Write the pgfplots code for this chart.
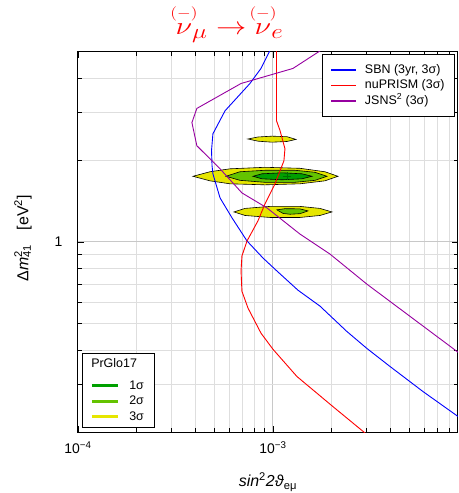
\documentclass[border=0pt]{standalone}
\usepackage{amsmath}
\usepackage{graphicx}
\usepackage{fontspec}
\setmainfont{Liberation Sans}
\usepackage{pgfplots}
\pgfplotsset{compat=1.18}
\definecolor{cyel}{RGB}{230,230,0}
\definecolor{cgr2}{RGB}{100,195,0}
\definecolor{cgr1}{RGB}{0,160,0}
\definecolor{cgrx}{RGB}{0,110,0}
\definecolor{cpur}{RGB}{150,0,160}
\definecolor{cred}{RGB}{255,0,0}
\definecolor{cblu}{RGB}{0,0,255}
\definecolor{gridmaj}{RGB}{200,200,200}
\definecolor{gridmin}{RGB}{222,222,222}
\begin{document}
\begin{tikzpicture}
\begin{axis}[name=ax, at={(0,0)}, anchor=south west,
  scale only axis, width=380bp, height=380bp,
  xmode=log, ymode=log,
  xmin=1e-4, xmax=8.89e-3, ymin=0.2, ymax=5,
  xtick={1e-4,1e-3}, xticklabels={10\textsuperscript{−4},10\textsuperscript{−3}},
  ytick={1}, yticklabels={1},
  minor xtick={2e-4,3e-4,4e-4,5e-4,6e-4,7e-4,8e-4,9e-4,2e-3,3e-3,4e-3,5e-3,6e-3,7e-3,8e-3},
  minor ytick={0.3,0.4,0.5,0.6,0.7,0.8,0.9,2,3,4},
  grid=both,
  major grid style={draw=gridmaj, line width=1bp},
  minor grid style={draw=gridmin, line width=0.8bp},
  tick align=inside,
  major tick length=6bp, minor tick length=4bp,
  every tick/.style={black, line width=0.8bp},
  axis line style={line width=1bp},
  ticklabel style={font=\fontsize{14}{16}\selectfont},
  yticklabel style={xshift=-12bp},
  xticklabel style={yshift=-6bp},
  xlabel={\textit{sin}\textsuperscript{2}\textit{2ϑ}\textsubscript{eμ}},
  ylabel={Δ\textit{m}\rlap{\textsuperscript{2}}\textsubscript{41}\hspace{0.9em}[eV\textsuperscript{2}]},
  label style={font=\fontsize{16}{18}\selectfont},
  xlabel style={at={(axis description cs:0.5,-0.1316)}, anchor=center},
  ylabel style={at={(axis description cs:-0.145,0.51)}, anchor=center},
  legend style={at={(0.0105,0.0105)}, anchor=south west, draw=black, line width=0.6bp, fill=white,
    font=\fontsize{12.5}{14}\selectfont, inner xsep=8bp, inner ysep=3bp,
    nodes={text height=9bp, text depth=2.5bp, inner sep=2bp}},
  legend cell align=left,
  legend image code/.code={\draw[#1] (0bp,0bp) -- (26bp,0bp); \path (34bp,0bp);},
]
% top island (3 sigma)
\addplot[fill=cyel, draw=black, line width=0.6bp, forget plot] coordinates {
(7.44e-4,2.393) (8.38e-4,2.434) (9.88e-4,2.451) (1.18e-3,2.440) (1.312e-3,2.385)
(1.18e-3,2.343) (9.88e-4,2.329) (8.38e-4,2.349)} -- cycle;
% main island 3 sigma
\addplot[fill=cyel, draw=black, line width=0.6bp, forget plot] coordinates {
(3.889e-4,1.745) (4.75e-4,1.813) (6.02e-4,1.859) (9.10e-4,1.883) (1.375e-3,1.867) (1.848e-3,1.813)
(2.154e-3,1.745) (1.848e-3,1.679) (1.375e-3,1.637) (9.10e-4,1.623) (6.02e-4,1.637) (4.75e-4,1.679)} -- cycle;
% main island 2 sigma
\addplot[fill=cgr2, draw=black, line width=0.6bp, forget plot] coordinates {
(5.74e-4,1.745) (6.77e-4,1.813) (9.10e-4,1.836) (1.297e-3,1.836) (1.643e-3,1.805)
(1.892e-3,1.745) (1.643e-3,1.686) (1.297e-3,1.658) (9.10e-4,1.658) (6.77e-4,1.686)} -- cycle;
% main island 1 sigma
\addplot[fill=cgr1, draw=black, line width=0.6bp, forget plot] coordinates {
(7.90e-4,1.745) (8.78e-4,1.782) (1.112e-3,1.797) (1.408e-3,1.782)
(1.585e-3,1.745) (1.408e-3,1.708) (1.112e-3,1.694) (8.78e-4,1.708)} -- cycle;
% best fit
\addplot[only marks, mark=+, mark size=4bp, cgrx, line width=0.8bp, forget plot] coordinates {(1.18e-3,1.745)};
% lower island 3 sigma
\addplot[fill=cyel, draw=black, line width=0.6bp, forget plot] coordinates {
(6.31e-4,1.290) (7.19e-4,1.329) (9.65e-4,1.352) (1.375e-3,1.352) (1.742e-3,1.329)
(2.007e-3,1.290) (1.742e-3,1.252) (1.375e-3,1.231) (9.65e-4,1.231) (7.19e-4,1.252)} -- cycle;
% lower island 2 sigma
\addplot[fill=cgr2, draw=black, line width=0.6bp, forget plot] coordinates {
(1.048e-3,1.313) (1.152e-3,1.326) (1.375e-3,1.324) (1.512e-3,1.301)
(1.375e-3,1.271) (1.222e-3,1.265) (1.125e-3,1.274)} -- cycle;
\addlegendimage{empty legend}\addlegendentry[text depth=9bp]{\hspace*{-38bp}PrGlo17}
\addlegendimage{cgr1, line width=3bp}\addlegendentry{1σ}
\addlegendimage{cgr2, line width=3bp}\addlegendentry{2σ}
\addlegendimage{cyel, line width=3bp}\addlegendentry{3σ}
\end{axis}
\begin{axis}[at={(ax.south west)}, anchor=south west, hide axis,
  scale only axis, width=380bp, height=380bp,
  xmode=log, ymode=log,
  xmin=1e-4, xmax=8.89e-3, ymin=0.2, ymax=5,
  legend style={at={(0.992,0.995)}, anchor=north east, draw=black, line width=0.6bp, fill=white,
    font=\fontsize{12.5}{14}\selectfont, inner xsep=8bp, inner ysep=8bp,
    nodes={text height=9bp, text depth=2.5bp, inner sep=2bp}},
  legend cell align=left,
  legend image code/.code={\draw[#1] (0bp,0bp) -- (25bp,0bp); \path (31bp,0bp);},
]
\addplot[draw=cblu, line width=0.9bp, forget plot] coordinates {
(1.0e-3,5.33) (8.68e-4,4.35) (7.62e-4,3.83) (5.68e-4,3.04) (4.92e-4,2.50) (4.84e-4,2.17)
(4.87e-4,1.907) (4.92e-4,1.782) (5.35e-4,1.454) (6.17e-4,1.226) (7.36e-4,1.0085)
(8.89e-4,0.873) (1.048e-3,0.782) (1.343e-3,0.665) (1.742e-3,0.581) (2.39e-3,0.469)
(3.03e-3,0.406) (3.98e-3,0.3486) (5.87e-3,0.282) (8.9e-3,0.228) (1.02e-2,0.211)};
\addplot[draw=cred, line width=0.9bp, forget plot] coordinates {
(1.042e-3,5.5) (1.042e-3,2.796) (1.087e-3,2.569) (1.152e-3,2.204) (1.138e-3,1.99)
(1.024e-3,1.637) (9.10e-4,1.381) (8.37e-4,1.195) (7.36e-4,1.0085) (6.93e-4,0.888)
(6.86e-4,0.782) (6.93e-4,0.659) (7.45e-4,0.571) (8.68e-4,0.462) (1.0e-3,0.403)
(1.327e-3,0.320) (2.03e-3,0.248) (3.0e-3,0.197) (3.45e-3,0.181)};
\addplot[draw=cpur, line width=0.9bp, forget plot] coordinates {
(1.96e-3,5.33) (1.266e-3,4.35) (6.86e-4,3.83) (4.07e-4,3.10) (3.84e-4,2.75)
(4.07e-4,2.26) (5.35e-4,1.859) (6.93e-4,1.516) (9.31e-4,1.335) (1.374e-3,1.070)
(1.96e-3,0.903) (3.03e-3,0.700) (8.9e-3,0.393) (1.02e-2,0.364)};
\addlegendimage{draw=cblu, line width=1.3bp}\addlegendentry{SBN (3yr, 3σ)}
\addlegendimage{draw=cred, line width=1.3bp}\addlegendentry{nuPRISM (3σ)}
\addlegendimage{draw=cpur, line width=1.3bp}\addlegendentry{JSNS\textsuperscript{2} (3σ)}
\end{axis}
\node[anchor=base, text=red, font=\fontsize{30}{34}\selectfont, inner sep=0pt] at ([xshift=151.5bp,yshift=17bp]ax.north west)
  {\scalebox{1.22}[1]{$\overset{\makebox[0pt]{$\scriptscriptstyle(-)$}}{\nu}_{\mu}\rightarrow\overset{\makebox[0pt]{$\scriptscriptstyle(-)$}}{\nu}_{e}$}};
\pgfresetboundingbox
\path[use as bounding box] ([shift={(-78bp,-61bp)}]ax.south west) rectangle ([shift={(1bp,52bp)}]ax.north east);
\end{tikzpicture}
\end{document}
